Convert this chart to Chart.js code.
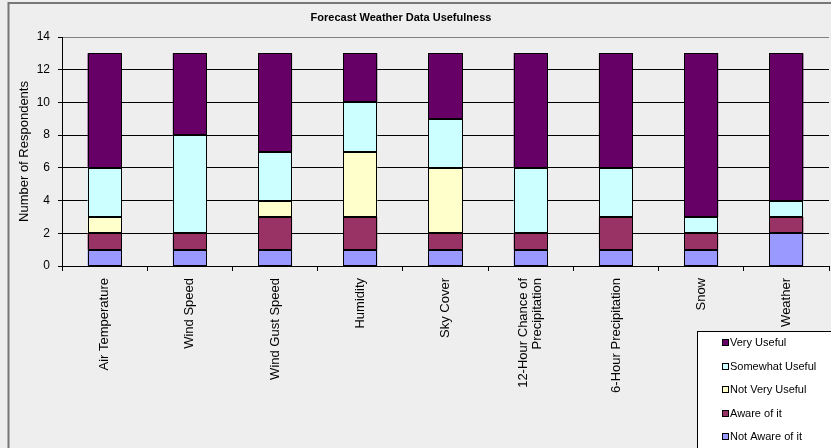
<!DOCTYPE html>
<html>
<head>
<meta charset="utf-8">
<title>Forecast Weather Data Usefulness</title>
<script src="https://cdn.jsdelivr.net/npm/chart.js@4/dist/chart.umd.min.js"></script>
<style>
  html, body { margin: 0; padding: 0; background: #eeeeee; }
  canvas { display: block; }
</style>
</head>
<body>
<canvas id="chart" width="831" height="448"></canvas>
<script>
// Survey categories (x axis)
const categories = [
  "Air Temperature",
  "Wind Speed",
  "Wind Gust Speed",
  "Humidity",
  "Sky Cover",
  ["12-Hour Chance of", "Precipitation"],
  "6-Hour Precipitation",
  "Snow",
  "Weather"
];

// Respondent counts per answer, stacked bottom to top
const notAwareOfIt   = [1, 1, 1, 1, 1, 1, 1, 1, 2];
const awareOfIt      = [1, 1, 2, 2, 1, 1, 2, 1, 1];
const notVeryUseful  = [1, 0, 1, 4, 4, 0, 0, 0, 0];
const somewhatUseful = [3, 6, 3, 3, 3, 4, 3, 1, 1];
const veryUseful     = [7, 5, 6, 3, 4, 7, 7, 10, 9];

// Value axis
const yMin = 0;
const yMax = 14;
const yStep = 2;

const chartTitle = "Forecast Weather Data Usefulness";
const yAxisTitle = "Number of Respondents";

const FONT = "'Liberation Sans', Arial, sans-serif";

function series(label, data, color) {
  return {
    label: label,
    data: data,
    backgroundColor: color,
    borderWidth: 0,
    inflateAmount: 0,
    categoryPercentage: 1.0,
    barPercentage: 0.4
  };
}

// Background, outer frame and title
const framePlugin = {
  id: "frame",
  beforeDraw(chart) {
    const ctx = chart.ctx;
    ctx.save();
    ctx.fillStyle = "#eeeeee";
    ctx.fillRect(0, 0, chart.width, chart.height);
    ctx.strokeStyle = "#777777";
    ctx.lineWidth = 2;
    ctx.beginPath();
    ctx.moveTo(8.5, chart.height + 2);
    ctx.lineTo(8.5, 3);
    ctx.lineTo(chart.width + 2, 3);
    ctx.stroke();
    ctx.fillStyle = "#000000";
    ctx.font = "bold 11px " + FONT;
    ctx.textAlign = "center";
    ctx.textBaseline = "middle";
    ctx.fillText(chartTitle, 401, 18);
    ctx.restore();
  }
};

// Crisp black outline around every stacked segment
const segmentOutlinePlugin = {
  id: "segmentOutline",
  afterDatasetsDraw(chart) {
    const ctx = chart.ctx;
    ctx.save();
    ctx.strokeStyle = "#000000";
    ctx.lineWidth = 1;
    chart.data.datasets.forEach((ds, d) => {
      const meta = chart.getDatasetMeta(d);
      meta.data.forEach((bar, i) => {
        if (!ds.data[i]) return;
        const p = bar.getProps(["x", "y", "base", "width"], true);
        const l = Math.round(p.x - p.width / 2) + 0.5;
        const r = Math.round(p.x + p.width / 2) - 0.5;
        const t = Math.round(Math.min(p.y, p.base)) + 0.5;
        const b = Math.round(Math.max(p.y, p.base)) - 0.5;
        ctx.strokeRect(l, t, r - l, b - t);
      });
    });
    ctx.restore();
  }
};

// Vertical category labels, multi-line labels centred on their tick
const categoryLabelPlugin = {
  id: "categoryLabels",
  afterDraw(chart) {
    const scale = chart.scales.x;
    const ctx = chart.ctx;
    const lineHeight = 14;
    const topY = scale.top + 12;
    ctx.save();
    ctx.fillStyle = "#000000";
    ctx.font = "13px " + FONT;
    ctx.textAlign = "right";
    ctx.textBaseline = "middle";
    chart.data.labels.forEach((label, i) => {
      const lines = Array.isArray(label) ? label : [label];
      const x = scale.getPixelForTick(i);
      lines.forEach((line, j) => {
        const dx = (j - (lines.length - 1) / 2) * lineHeight;
        ctx.save();
        ctx.translate(x + dx, topY);
        ctx.rotate(-Math.PI / 2);
        ctx.fillText(line, 0, 0);
        ctx.restore();
      });
    });
    ctx.restore();
  }
};

// Boxed legend in the lower right corner, top series first
const boxLegendPlugin = {
  id: "boxLegend",
  afterDraw(chart) {
    const ctx = chart.ctx;
    const left = 697.5, top = 331.5;
    ctx.save();
    ctx.fillStyle = "#ffffff";
    ctx.fillRect(left, top, chart.width - left + 5, chart.height - top + 5);
    ctx.strokeStyle = "#000000";
    ctx.lineWidth = 1;
    ctx.strokeRect(left, top, chart.width - left + 5, chart.height - top + 5);
    ctx.font = "11px " + FONT;
    ctx.textAlign = "left";
    ctx.textBaseline = "middle";
    const sets = chart.data.datasets.slice().reverse();
    sets.forEach((ds, i) => {
      const cy = Math.round(343 + i * 23.6);
      ctx.fillStyle = ds.backgroundColor;
      ctx.fillRect(723, cy - 3, 5, 5);
      ctx.strokeStyle = "#000000";
      ctx.strokeRect(722.5, cy - 3.5, 6, 6);
      ctx.fillStyle = "#000000";
      ctx.fillText(ds.label, 730, cy);
    });
    ctx.restore();
  }
};

new Chart(document.getElementById("chart"), {
  type: "bar",
  data: {
    labels: categories,
    datasets: [
      series("Not Aware of it", notAwareOfIt, "#9999ff"),
      series("Aware of it", awareOfIt, "#993366"),
      series("Not Very Useful", notVeryUseful, "#ffffcc"),
      series("Somewhat Useful", somewhatUseful, "#ccffff"),
      series("Very Useful", veryUseful, "#660066")
    ]
  },
  options: {
    responsive: false,
    animation: false,
    events: [],
    layout: { padding: { left: 0, top: 37, right: 2, bottom: 0 } },
    plugins: {
      legend: { display: false },
      title: { display: false },
      tooltip: { enabled: false }
    },
    scales: {
      x: {
        stacked: true,
        offset: true,
        afterFit(scale) { scale.height = 182; },
        border: { display: true, color: "#000000", width: 1 },
        grid: {
          offset: true,
          drawOnChartArea: false,
          drawTicks: true,
          tickLength: 5,
          tickColor: "#000000"
        },
        ticks: {
          display: false,
          autoSkip: false
        }
      },
      y: {
        stacked: true,
        min: yMin,
        max: yMax,
        afterFit(scale) { scale.width = 62; },
        border: { display: true, color: "#000000", width: 1 },
        grid: {
          color: (c) => (c.tick && c.tick.value === yMax ? "#808080" : "#000000"),
          lineWidth: 1,
          drawTicks: true,
          tickLength: 4,
          tickColor: "#000000"
        },
        ticks: {
          stepSize: yStep,
          padding: 8,
          color: "#000000",
          font: { family: FONT, size: 12 }
        },
        title: {
          display: true,
          text: yAxisTitle,
          color: "#000000",
          padding: { top: 17, bottom: 0 },
          font: { family: FONT, size: 13 }
        }
      }
    }
  },
  plugins: [framePlugin, segmentOutlinePlugin, categoryLabelPlugin, boxLegendPlugin]
});
</script>
</body>
</html>
